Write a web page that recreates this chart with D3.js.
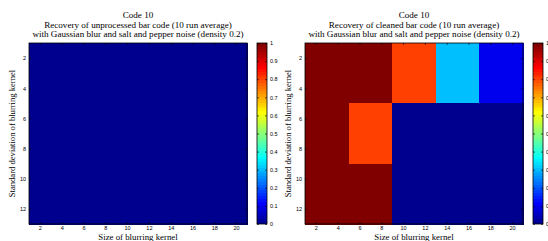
<!DOCTYPE html>
<html>
<head>
<meta charset="utf-8">
<script src="https://cdn.jsdelivr.net/npm/d3@7"></script>
<style>
  body { margin: 0; background: #fff; }
  svg text { fill: #000; }
</style>
</head>
<body>
<div id="chart"></div>
<script>
var width = 548, height = 241;

// grid of the heat maps (cell centres, each cell is 4 units wide)
var xCenters = [3, 7, 11, 15, 19];
var yCenters = [3, 7, 11];
var xTicks = [2, 4, 6, 8, 10, 12, 14, 16, 18, 20];
var yTicks = [2, 4, 6, 8, 10, 12];
var cbTicks = [0, 0.1, 0.2, 0.3, 0.4, 0.5, 0.6, 0.7, 0.8, 0.9, 1];

// recovery rate, rows = std deviation, columns = kernel size
var unprocessedValues = [
  [0, 0, 0, 0, 0],
  [0, 0, 0, 0, 0],
  [0, 0, 0, 0, 0]
];
var cleanedValues = [
  [1, 1, 0.81, 0.3, 0.1],
  [1, 0.81, 0, 0, 0],
  [1, 1, 0, 0, 0]
];

var leftTitle = ["Code 10",
  "Recovery of unprocessed bar code (10 run average)",
  "with Gaussian blur and salt and pepper noise (density 0.2)"];
var rightTitle = ["Code 10",
  "Recovery of cleaned bar code (10 run average)",
  "with Gaussian blur and salt and pepper noise (density 0.2)"];

// matlab jet(64)
function jet64() {
  var m = 64, n = 16, u = [], i;
  for (i = 1; i <= n; i++) u.push(i / n);
  for (i = 0; i < n - 1; i++) u.push(1);
  for (i = n; i >= 1; i--) u.push(i / n);
  var J = [];
  for (i = 0; i < m; i++) J.push([0, 0, 0]);
  for (var k = 0; k < u.length; k++) {
    var g = 8 + k + 1, r = g + n, b = g - n;
    if (r <= m) J[r - 1][0] = u[k];
    if (g <= m) J[g - 1][1] = u[k];
    if (b >= 1) J[b - 1][2] = u[k];
  }
  return J.map(function(c) {
    return d3.rgb(c[0] * 255, c[1] * 255, c[2] * 255).toString();
  });
}
var jet = jet64();
function colorOf(v) {
  var i = Math.min(63, Math.max(0, Math.round(v * 63)));
  return jet[i];
}

var svg = d3.select("#chart").append("svg")
  .attr("width", width).attr("height", height);

var plotTop = 43, plotBottom = 224, plotW = 218;
var serif = "'Liberation Serif', 'Times New Roman', serif";
var sans = "'Liberation Sans', Arial, sans-serif";

function drawPanel(left, values, title) {
  var g = svg.append("g");
  var x = d3.scaleLinear().domain([1, 21]).range([left, left + plotW]);
  var y = d3.scaleLinear().domain([1, 13]).range([plotTop, plotBottom]);

  values.forEach(function(row, ri) {
    row.forEach(function(v, ci) {
      g.append("rect")
        .attr("x", x(xCenters[ci] - 2))
        .attr("y", y(yCenters[ri] - 2))
        .attr("width", x(xCenters[ci] + 2) - x(xCenters[ci] - 2) + 0.5)
        .attr("height", y(yCenters[ri] + 2) - y(yCenters[ri] - 2) + 0.5)
        .attr("shape-rendering", "crispEdges")
        .attr("fill", colorOf(v));
    });
  });

  // axes, ticks inward on all four sides
  g.append("g").attr("transform", "translate(0," + plotBottom + ")")
    .call(d3.axisBottom(x).tickValues(xTicks).tickSizeInner(-2).tickSizeOuter(0).tickPadding(2));
  g.append("g").attr("transform", "translate(0," + plotTop + ")")
    .call(d3.axisTop(x).tickValues(xTicks).tickSizeInner(-2).tickSizeOuter(0).tickFormat(""));
  g.append("g").attr("transform", "translate(" + left + ",0)")
    .call(d3.axisLeft(y).tickValues(yTicks).tickSizeInner(-2).tickSizeOuter(0).tickPadding(3));
  g.append("g").attr("transform", "translate(" + (left + plotW) + ",0)")
    .call(d3.axisRight(y).tickValues(yTicks).tickSizeInner(-2).tickSizeOuter(0).tickFormat(""));
  g.selectAll(".domain").remove();
  g.selectAll(".tick line").attr("stroke", "#000").attr("stroke-width", 0.6);
  g.selectAll(".tick text").attr("font-family", sans).attr("font-size", 5.5).attr("fill", "#333");
  g.append("rect").attr("x", left).attr("y", plotTop)
    .attr("width", plotW).attr("height", plotBottom - plotTop)
    .attr("fill", "none").attr("stroke", "#000").attr("stroke-width", 0.8);

  // colorbar
  var cbLeft = left + plotW + 10, cbW = 10;
  var c = d3.scaleLinear().domain([0, 1]).range([plotBottom, plotTop]);
  var cg = svg.append("g");
  jet.forEach(function(col, i) {
    cg.append("rect")
      .attr("x", cbLeft)
      .attr("y", c((i + 1) / 64))
      .attr("width", cbW)
      .attr("height", c(i / 64) - c((i + 1) / 64) + 0.4)
      .attr("shape-rendering", "crispEdges")
      .attr("fill", col);
  });
  cg.append("g").attr("transform", "translate(" + (cbLeft + cbW) + ",0)")
    .call(d3.axisRight(c).tickValues(cbTicks).tickSizeInner(-2).tickSizeOuter(0).tickPadding(3)
      .tickFormat(d3.format("~g")));
  cg.append("g").attr("transform", "translate(" + cbLeft + ",0)")
    .call(d3.axisLeft(c).tickValues(cbTicks).tickSizeInner(-2).tickSizeOuter(0).tickFormat(""));
  cg.selectAll(".domain").remove();
  cg.selectAll(".tick line").attr("stroke", "#000").attr("stroke-width", 0.6);
  cg.selectAll(".tick text").attr("font-family", sans).attr("font-size", 5.5).attr("fill", "#333");
  cg.append("rect").attr("x", cbLeft).attr("y", plotTop)
    .attr("width", cbW).attr("height", plotBottom - plotTop)
    .attr("fill", "none").attr("stroke", "#000").attr("stroke-width", 0.8);

  // titles and labels
  var cx = left + plotW / 2;
  title.forEach(function(t, i) {
    svg.append("text").attr("x", cx).attr("y", 18 + i * 9.7)
      .attr("text-anchor", "middle").attr("font-family", serif)
      .attr("font-size", 9.1).attr("fill", "#111").text(t);
  });
  svg.append("text").attr("x", cx).attr("y", 240)
    .attr("text-anchor", "middle").attr("font-family", serif)
    .attr("font-size", 8.8).attr("fill", "#111").text("Size of blurring kernel");
  svg.append("text")
    .attr("transform", "translate(" + (left - 14) + "," + ((plotTop + plotBottom) / 2) + ") rotate(-90)")
    .attr("text-anchor", "middle").attr("font-family", serif)
    .attr("font-size", 8.6).attr("fill", "#111").text("Standard deviation of blurring kernel");
}

drawPanel(29, unprocessedValues, leftTitle);
drawPanel(305, cleanedValues, rightTitle);
</script>
</body>
</html>
